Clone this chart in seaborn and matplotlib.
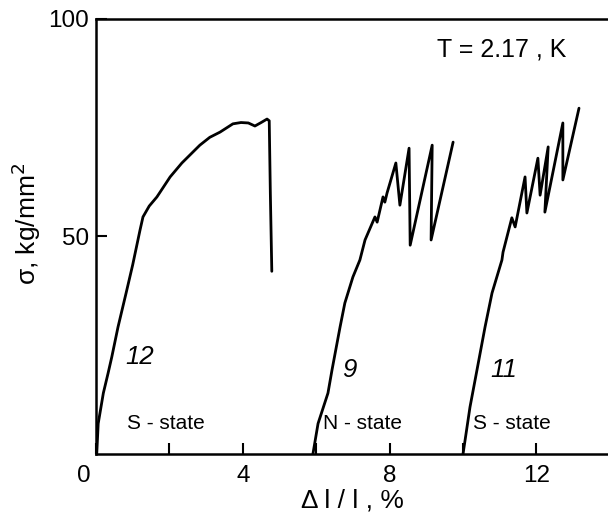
import matplotlib
matplotlib.use("Agg")
import matplotlib.pyplot as plt
import matplotlib.transforms as mtransforms
import seaborn as sns
import pandas as pd

# Curve 12 (S-state)
x12 = [0.02, 0.06, 0.2, 0.33, 0.43, 0.6, 0.82, 1.0, 1.1, 1.2, 1.28, 1.45, 1.66, 2.02, 2.34, 2.83, 3.1, 3.38, 3.73, 3.95, 4.15, 4.33, 4.5, 4.66, 4.72, 4.75, 4.79]
y12 = [0, 7, 14, 18.6, 22.3, 29.2, 37, 43.5, 47.5, 51.5, 54.5, 57, 59.1, 63.7, 66.9, 71, 72.8, 74, 75.9, 76.2, 76.1, 75.4, 76.2, 77, 76.6, 60, 42]
# Curve 9 (N-state)
x9 = [5.91, 6.05, 6.32, 6.43, 6.65, 6.78, 7.0, 7.19, 7.33, 7.6, 7.66, 7.82, 7.87, 7.93, 8.17, 8.28, 8.53, 8.56, 9.16, 9.13, 9.73]
y9 = [0, 7, 14, 19.3, 29.2, 34.7, 40.7, 44.6, 49.2, 54.5, 53.3, 59.1, 57.9, 60, 66.9, 57.2, 70.3, 48, 71, 49.2, 71.7]
# Curve 11 (S-state)
x11 = [10.0, 10.19, 10.38, 10.6, 10.79, 11.06, 11.09, 11.33, 11.42, 11.69, 11.74, 12.04, 12.1, 12.32, 12.23, 12.72, 12.72, 13.16]
y11 = [0, 10.8, 19.3, 29.2, 37, 44.6, 46.4, 54.3, 52.2, 63.7, 55.4, 68, 59.5, 70.6, 55.6, 76.1, 63, 79.5]

curve_labels = ["12", "9", "11"]
state_labels = ["S - state", "N - state", "S - state"]

sns.set_style("ticks")
plt.rcParams["font.family"] = ["Liberation Sans", "DejaVu Sans"]
plt.rcParams["text.color"] = "black"
plt.rcParams["axes.labelcolor"] = "black"

fig = plt.figure(figsize=(6.08, 5.20), dpi=100)
ax = fig.add_axes([96 / 608, 1 - 454 / 520, 1 - 96 / 608, (454 - 19) / 520])

for xs, ys in [(x12, y12), (x9, y9), (x11, y11)]:
    df = pd.DataFrame({"x": xs, "y": ys})
    sns.lineplot(data=df, x="x", y="y", sort=False, estimator=None,
                 color="black", linewidth=2.0, ax=ax)

ax.set_xlim(0, 13.95)
ax.set_ylim(0, 100)
ax.set_xticks([0, 4, 8, 12])
ax.set_xticks([2, 6, 10], minor=True)
ax.set_yticks([50, 100])
ax.tick_params(axis="both", which="both", direction="in", length=8, width=1.5,
               colors="black", labelcolor="black", labelsize=17.5)
ax.tick_params(axis="x", which="major", pad=8)
ax.tick_params(axis="y", which="major", pad=5)
for sp in ["left", "bottom", "top"]:
    ax.spines[sp].set_linewidth(1.8)
    ax.spines[sp].set_color("black")
ax.spines["right"].set_visible(False)

# shift the "0" label slightly left as in reference
lbl0 = ax.get_xticklabels()[0]
lbl0.set_transform(lbl0.get_transform() + mtransforms.ScaledTranslation(-12 / 100, 0, fig.dpi_scale_trans))

ax.set_xlabel("Δ l / l , %", fontsize=19, labelpad=1, color="black")
ax.set_ylabel("σ, kg/mm$^2$", fontsize=19, color="black")
ax.yaxis.set_label_coords(-0.103, 0.53)

ax.text(11.04, 92.9, "T = 2.17 , K", fontsize=18, ha="center", va="center", color="black")
for x, y, t in [(0.79, 22.3, curve_labels[0]), (6.7, 19.3, curve_labels[1]), (10.74, 19.3, curve_labels[2])]:
    ax.text(x, y, t, fontsize=18.5, style="italic", ha="left", va="center", color="black")
for x, t in [(0.84, state_labels[0]), (6.19, state_labels[1]), (10.27, state_labels[2])]:
    ax.text(x, 7.1, t, fontsize=15, ha="left", va="center", color="black")

fig.savefig("out.png", dpi=100)
